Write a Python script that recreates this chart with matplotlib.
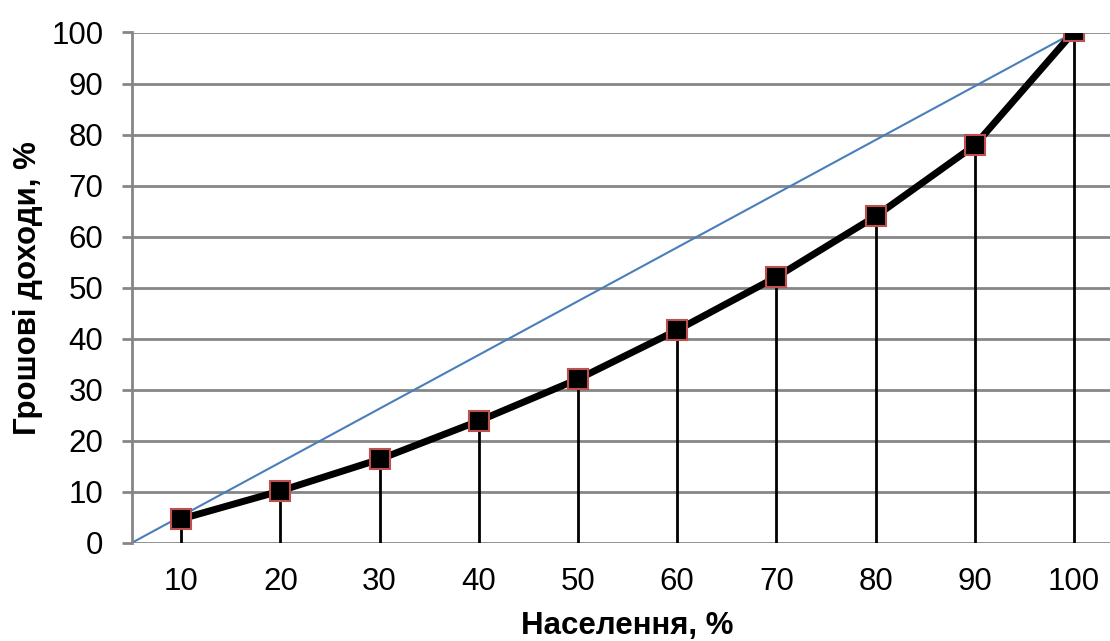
import matplotlib
matplotlib.use("Agg")
import matplotlib.pyplot as plt

population = [10, 20, 30, 40, 50, 60, 70, 80, 90, 100]
income = [4.7, 10.2, 16.4, 23.9, 32.1, 41.7, 52.1, 64.0, 77.9, 100.2]
equality_x = [5, 100]
equality_y = [0, 100]
y_ticks = [0, 10, 20, 30, 40, 50, 60, 70, 80, 90, 100]

plt.rcParams['font.family'] = ['Liberation Sans', 'DejaVu Sans']

W, H = 1110, 641
fig = plt.figure(figsize=(W / 100, H / 100), dpi=100)
left, right = 131.5, 1123.6
top, bottom = 32.5, 543
ax = fig.add_axes([left / W, (H - bottom) / H, (right - left) / W, (bottom - top) / H])
ax.set_xlim(5, 105)
ax.set_ylim(0, 100)

grid_c = '#868686'
for y in y_ticks:
    ax.axhline(y, color=grid_c, lw=2, zorder=1)

ax.plot(equality_x, equality_y, color='#4a7ebb', lw=1.5, zorder=2)
ax.vlines(population, 0, income, color='black', lw=2, zorder=2)
ax.plot(population, income, color='black', lw=5, zorder=3)
ax.plot(population, income, ls='none', marker='s', ms=14.5, mfc='black',
        mec='#c0504d', mew=1.5, zorder=4)

for s in ['top', 'right', 'bottom']:
    ax.spines[s].set_visible(False)
ax.spines['left'].set_color(grid_c)
ax.spines['left'].set_linewidth(2)

ax.set_yticks(y_ticks)
ax.set_xticks(population)
ax.tick_params(axis='y', length=7.2, width=2, color=grid_c, labelsize=22.5, pad=13)
ax.tick_params(axis='x', length=0, labelsize=22.5, pad=17)

fig.text(627 / W, 1 - 634 / H, 'Населення, %', fontsize=22.5, fontweight='bold',
         ha='center', va='baseline')
fig.text(28 / W, 1 - 288 / H, 'Грошові доходи, %', fontsize=22.5, fontweight='bold',
         ha='center', va='center', rotation=90)

fig.savefig('out.png', dpi=100)
